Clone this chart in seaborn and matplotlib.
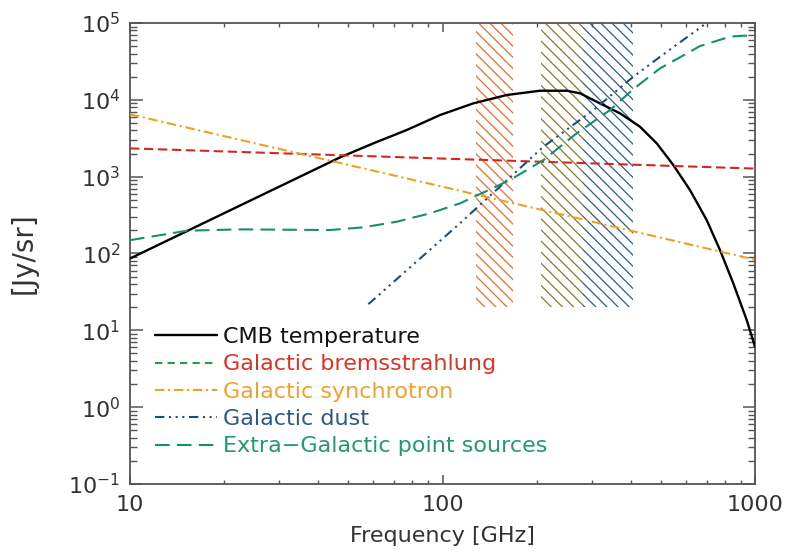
import matplotlib
matplotlib.use('Agg')
import matplotlib.pyplot as plt
from matplotlib.lines import Line2D
from matplotlib.patches import Rectangle
from matplotlib.ticker import FuncFormatter, NullFormatter, LogLocator, FixedLocator
import seaborn as sns

# --- values (GHz, Jy/sr) ---
cmb_freq = [10, 47.0, 60.1, 76.8, 98.2, 125.5, 160.5, 205, 249.7, 275.4, 319, 369.8,
            428.5, 484.6, 547.7, 619.4, 700.4, 772.7, 852.3, 940.6, 1000]
cmb_val = [86, 1783, 2716, 4045, 6340, 9000, 11550, 13140, 13140, 12160, 9000, 6670,
           4465, 2716, 1416, 669, 272, 110.7, 40.7, 13.6, 6.1]

brems_freq = [10, 100, 1000]
brems_val = [2335, 1720, 1274]

synch_freq = [10, 100, 1000]
synch_val = [6470, 740, 83]

dust_freq = [57.9, 113.7, 210.2, 304, 408, 497, 700]
dust_val = [21.9, 247, 2450, 7360, 20000, 36400, 100000]

ps_freq = [10, 15.2, 22.5, 43.6, 55.8, 71.3, 91.2, 113.7, 164.4, 210.4, 268.5, 343.6,
           408, 497, 667, 832, 918, 1000]
ps_val = [149, 198, 206, 202, 219, 259, 333, 449, 904, 1644, 3664, 7362,
          13800, 25700, 50100, 66400, 68400, 67600]

# hatched frequency bands
band_lo = [128, 206, 282]
band_hi = [168, 282, 408]
band_colors = ['#f26a2a', '#8a7a2c', '#2c5d8c']
band_bottom, band_top = 20, 1e5

x_ticks = [10, 100, 1000]

labels = ['CMB temperature', 'Galactic bremsstrahlung', 'Galactic synchrotron',
          'Galactic dust', 'Extra\u2212Galactic point sources']
label_colors = ['#111111', '#dd3322', '#f2a030', '#2a5a8a', '#1f9a72']

sns.set_style('ticks')
plt.rcParams['font.family'] = ['DejaVu Sans']
plt.rcParams['hatch.linewidth'] = 0.9

fig, ax = plt.subplots(figsize=(7.86, 5.57), dpi=100)
fig.subplots_adjust(left=0.1654, right=0.9606, bottom=0.1311, top=0.9587)
ax.set_xscale('log')
ax.set_yscale('log')

for lo, hi, c in zip(band_lo, band_hi, band_colors):
    ax.add_patch(Rectangle((lo, band_bottom), hi - lo, band_top - band_bottom,
                           facecolor='none', edgecolor=c, hatch='\\\\\\', linewidth=0, zorder=1))

sns.lineplot(x=cmb_freq, y=cmb_val, ax=ax, color='black', linewidth=1.7, zorder=3)
sns.lineplot(x=brems_freq, y=brems_val, ax=ax, color='#d9261c', linewidth=1.5,
             linestyle=(0, (4.5, 2.2)), zorder=3)
sns.lineplot(x=synch_freq, y=synch_val, ax=ax, color='#f0a01e', linewidth=1.5,
             linestyle=(0, (4.5, 1.8, 1, 1.8)), zorder=3)
sns.lineplot(x=dust_freq, y=dust_val, ax=ax, color='#1b4f7a', linewidth=1.5,
             linestyle=(0, (4.5, 2.2, 1, 2.2, 1, 2.2, 1, 2.2)), zorder=3)
sns.lineplot(x=ps_freq, y=ps_val, ax=ax, color='#139070', linewidth=1.5,
             linestyle=(0, (7, 3.5)), zorder=3)

ax.set_xlim(10, 1000)
ax.set_ylim(0.1, 1e5)

ax.xaxis.set_major_locator(FixedLocator(x_ticks))
ax.xaxis.set_major_formatter(FuncFormatter(lambda v, p: '%d' % v))
ax.xaxis.set_minor_formatter(NullFormatter())
ax.yaxis.set_major_locator(LogLocator(base=10, numticks=20))
ax.yaxis.set_minor_locator(LogLocator(base=10, subs=range(2, 10), numticks=20))
ax.yaxis.set_minor_formatter(NullFormatter())

ax.tick_params(axis='both', which='both', direction='in', top=True, right=True,
               colors='#555555', labelcolor='#333333', labelsize=16)
ax.tick_params(axis='x', which='major', length=6.5, width=1.1, pad=8)
ax.tick_params(axis='x', which='minor', length=3.2, width=1.0)
ax.tick_params(axis='y', which='major', length=9, width=1.1, pad=7)
ax.tick_params(axis='y', which='minor', length=4.8, width=1.0)
for s in ax.spines.values():
    s.set_color('#555555')
    s.set_linewidth(1.3)

ax.set_xlabel('Frequency [GHz]', fontsize=16, color='#333333', labelpad=8)
ax.set_ylabel('[Jy/sr]', fontsize=20, color='#333333', labelpad=22)

handles = [
    Line2D([], [], color='black', linewidth=1.7),
    Line2D([], [], color='#22a040', linewidth=1.5, linestyle=(0, (3.5, 2.5))),
    Line2D([], [], color='#f0a01e', linewidth=1.5, linestyle=(0, (4.5, 1.8, 1, 1.8))),
    Line2D([], [], color='#1b4f7a', linewidth=1.5, linestyle=(0, (4.5, 2.2, 1, 2.2, 1, 2.2, 1, 2.2))),
    Line2D([], [], color='#139070', linewidth=1.5, linestyle=(0, (7, 3.5))),
]
leg = ax.legend(handles, labels, loc='lower left', bbox_to_anchor=(0.04, 0.06),
                frameon=False, fontsize=16, handlelength=2.8, handletextpad=0.25,
                labelspacing=0.33, borderpad=0, borderaxespad=0)
for t, c in zip(leg.get_texts(), label_colors):
    t.set_color(c)

fig.savefig('out.png', dpi=100)
